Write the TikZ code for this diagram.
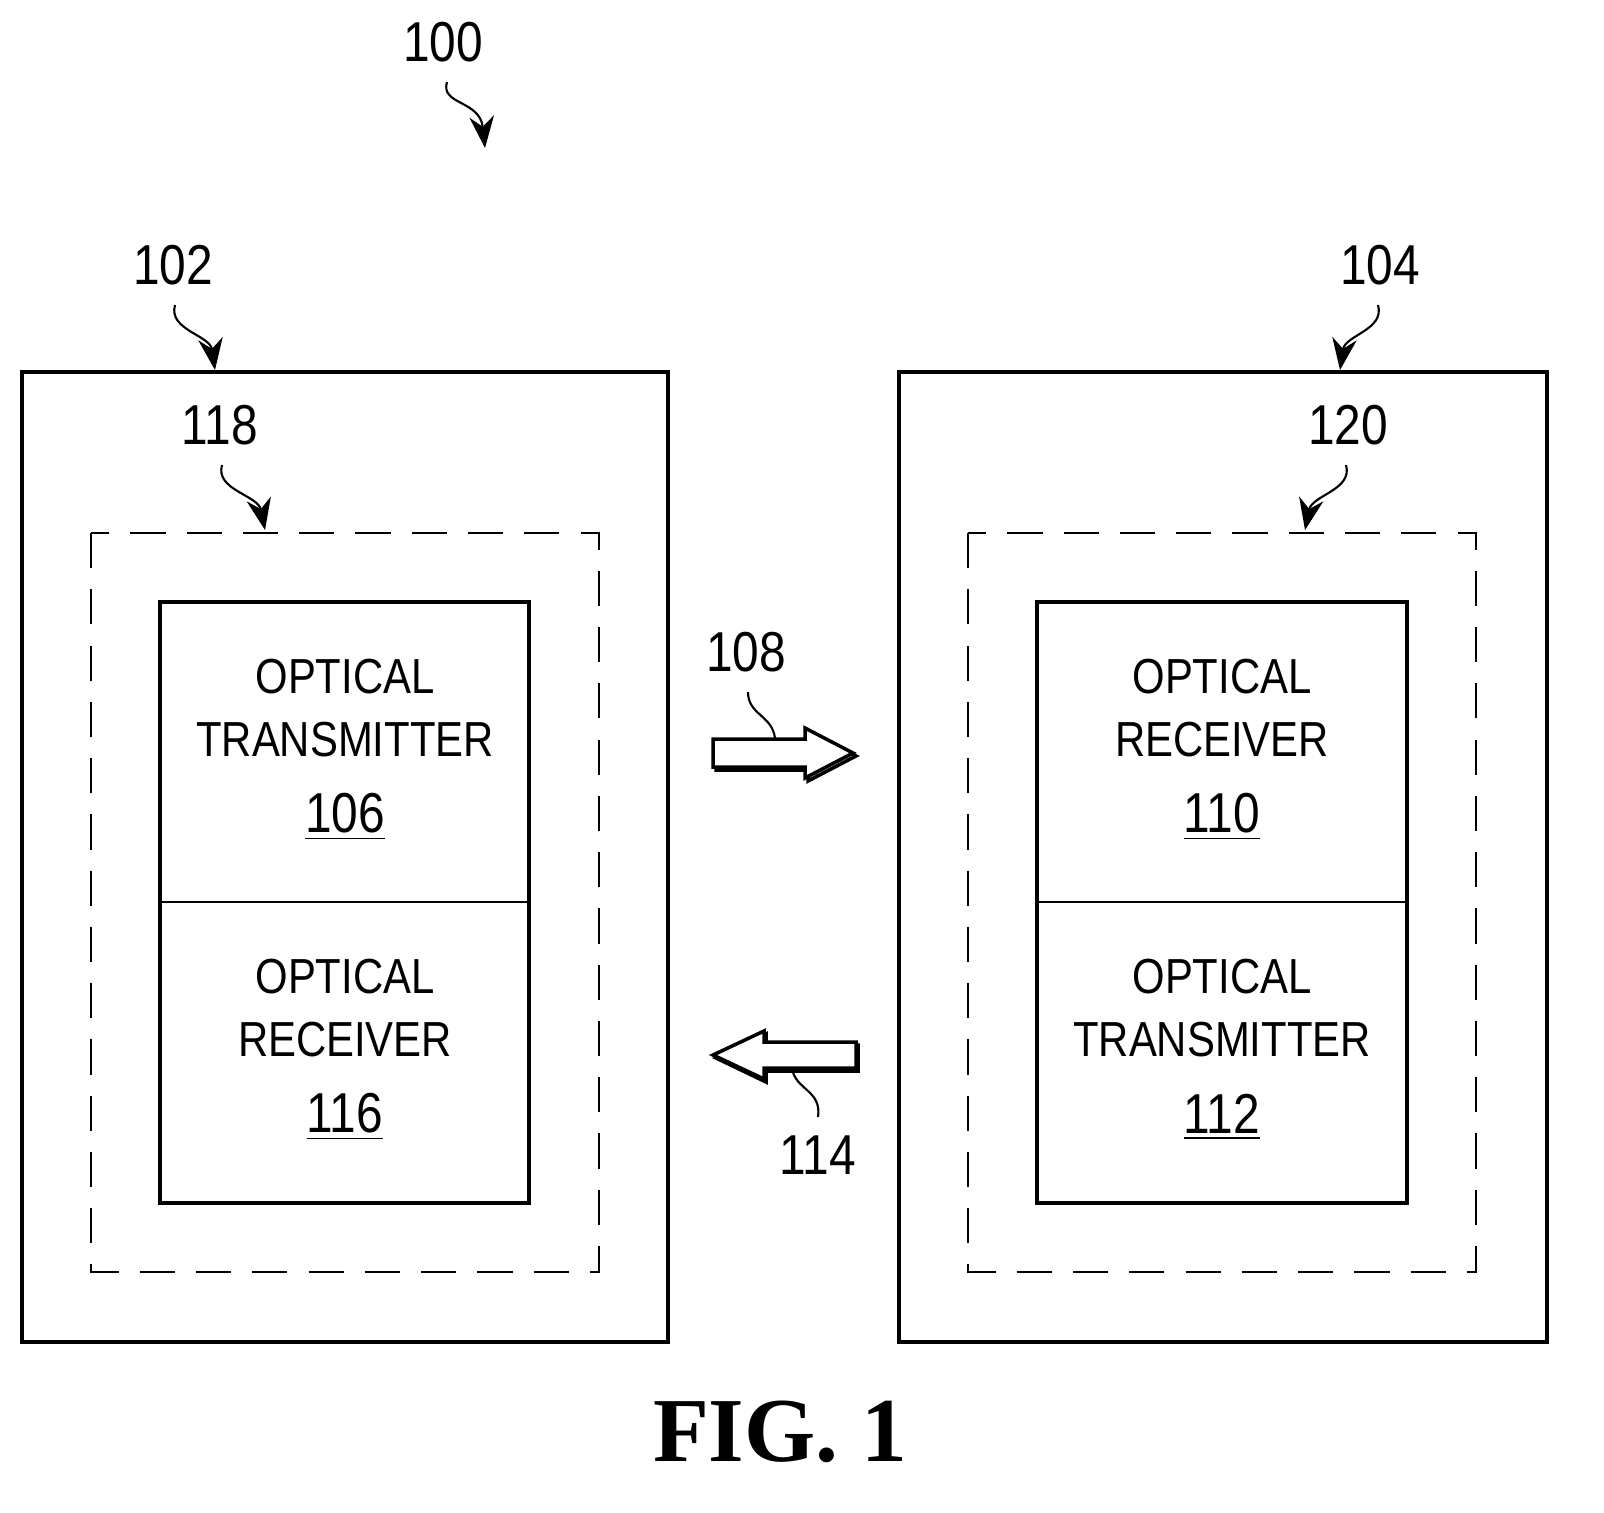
\documentclass[tikz,border=0pt]{standalone}
\usepackage{fontspec}
\setmainfont{Liberation Serif}
\newfontfamily\lblfont[FakeStretch=0.85]{Liberation Sans}
\usetikzlibrary{arrows.meta}
\tikzset{
  ref/.style={font=\lblfont\fontsize{16}{16}\selectfont},
  txt/.style={font=\lblfont\fontsize{14}{18}\selectfont,align=center},
  lead/.style={line width=0.6pt,-{Stealth[length=9pt,width=7pt]}},
  plain lead/.style={line width=0.6pt},
  fat arrow/.style={draw,line width=1pt,fill=white}
}
\begin{document}
\begin{tikzpicture}[x=0.01cm,y=-0.01cm]
\useasboundingbox (0,0) rectangle (1604,1512);
% outer boxes
\draw[line width=1pt] (22,372) rectangle (668,1342);
\draw[line width=1pt] (899,372) rectangle (1547,1342);
% dashed groups
\draw[dash pattern=on 10pt off 6pt,line width=0.7pt] (91,533) rectangle (599,1272);
\draw[dash pattern=on 10pt off 6pt,line width=0.7pt] (968,533) rectangle (1476,1272);
% inner boxes
\draw[line width=1pt] (160,602) rectangle (529,1203);
\draw[line width=0.8pt] (160,902) -- (529,902);
\draw[line width=1pt] (1037,602) rectangle (1407,1203);
\draw[line width=0.8pt] (1037,902) -- (1407,902);
%
\node[txt] (tx1) at (345,708) {OPTICAL\\TRANSMITTER};
\node[ref] (n106) at (345,817) {\underline{106}};
\node[txt] (rx1) at (345,1008) {OPTICAL\\RECEIVER};
\node[ref] (n116) at (345,1117) {\underline{116}};
\node[txt] (rx2) at (1222,708) {OPTICAL\\RECEIVER};
\node[ref] (n110) at (1222,817) {\underline{110}};
\node[txt] (tx2) at (1222,1008) {OPTICAL\\TRANSMITTER};
\node[ref] (n112) at (1222,1117) {\underline{112}};
% reference labels
\node[ref] (l100) at (443,42) {100};
\node[ref] (l102) at (173,265) {102};
\node[ref] (l104) at (1380,265) {104};
\node[ref] (l118) at (220,425) {118};
\node[ref] (l120) at (1348,425) {120};
\node[ref] (l108) at (746,652) {108};
\node[ref] (l114) at (818,1155) {114};
\coordinate (t100) at (485,148);
\coordinate (t102) at (215,370);
\coordinate (t104) at (1340,370);
\coordinate (t118) at (265,530);
\coordinate (t120) at (1305,530);
\coordinate (t108) at (775,738);
\coordinate (t114) at (792,1068);
%
\draw[lead] (447,82) .. controls (440,105) and (480,100) .. (t100);
\draw[lead] (175,305) .. controls (168,330) and (210,335) .. (t102);
\draw[lead] (1378,305) .. controls (1385,330) and (1345,335) .. (t104);
\draw[lead] (222,465) .. controls (215,490) and (258,495) .. (t118);
\draw[lead] (1346,465) .. controls (1353,490) and (1312,495) .. (t120);
\draw[plain lead] (748,692) .. controls (748,715) and (772,715) .. (t108);
\draw[plain lead] (818,1117) .. controls (822,1090) and (795,1090) .. (t114);
% signal arrows
\path[fat arrow,fill=gray!60] (716,742) -- (808,742) -- (808,731) -- (856,756) -- (808,781) -- (808,770) -- (716,770) -- cycle;
\path[fat arrow] (713,739) -- (805,739) -- (805,728) -- (853,753) -- (805,778) -- (805,767) -- (713,767) -- cycle;
\path[fat arrow,fill=gray!60] (858,1045) -- (766,1045) -- (766,1034) -- (716,1058) -- (766,1082) -- (766,1071) -- (858,1071) -- cycle;
\path[fat arrow] (856,1042) -- (764,1042) -- (764,1031) -- (713,1055) -- (764,1079) -- (764,1068) -- (856,1068) -- cycle;
%
\node[font=\fontsize{26}{26}\selectfont\bfseries] (fig) at (780,1432) {FIG. 1};
\end{tikzpicture}
\end{document}
